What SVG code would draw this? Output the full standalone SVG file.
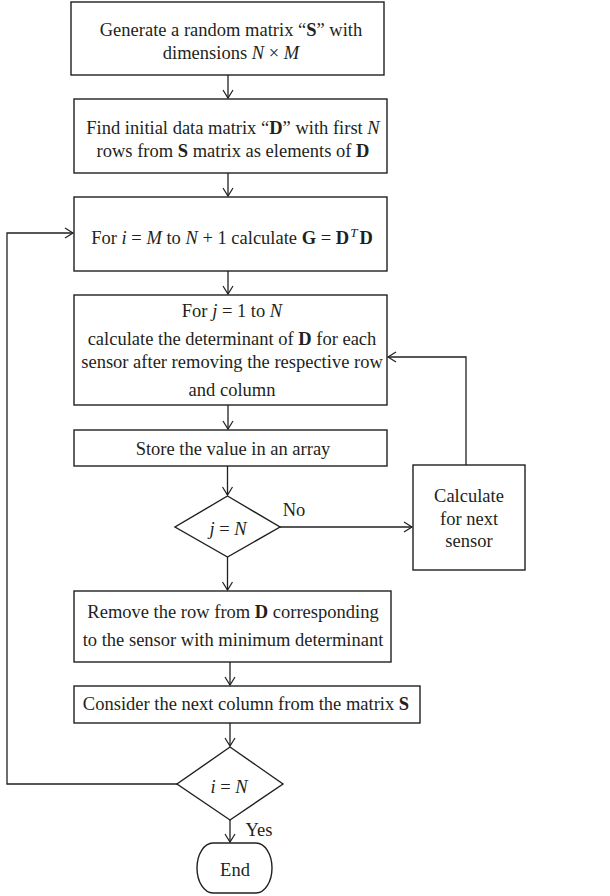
<svg xmlns="http://www.w3.org/2000/svg" width="610" height="896" viewBox="0 0 610 896">
<defs>
<style>
.box{fill:#fff;stroke:#231f20;stroke-width:1.4}
.ln{fill:none;stroke:#231f20;stroke-width:1.3}
text{font-family:"Liberation Serif","Times New Roman",serif;font-size:18.5px;fill:#231f20;text-anchor:middle}
.i{font-style:italic}
.b{font-weight:bold}
</style>
<marker id="arr" markerWidth="12" markerHeight="12" refX="10" refY="6" orient="auto" markerUnits="userSpaceOnUse">
<path d="M2,1 L10,6 L2,11" fill="none" stroke="#231f20" stroke-width="1.2"/>
</marker>
</defs>
<rect width="610" height="896" fill="#fff"/>
<g id="connectors">
<line class="ln" x1="228" y1="75" x2="228" y2="98" marker-end="url(#arr)"/>
<line class="ln" x1="228" y1="173" x2="228" y2="196" marker-end="url(#arr)"/>
<line class="ln" x1="228" y1="271" x2="228" y2="294" marker-end="url(#arr)"/>
<line class="ln" x1="228" y1="405" x2="228" y2="429" marker-end="url(#arr)"/>
<line class="ln" x1="227.5" y1="466" x2="227.5" y2="495" marker-end="url(#arr)"/>
<line class="ln" x1="280" y1="527" x2="412" y2="527" marker-end="url(#arr)"/>
<polyline class="ln" points="466,465 466,357 388,357" marker-end="url(#arr)"/>
<line class="ln" x1="227.5" y1="557" x2="227.5" y2="590" marker-end="url(#arr)"/>
<line class="ln" x1="230" y1="662" x2="230" y2="685" marker-end="url(#arr)"/>
<line class="ln" x1="230" y1="723" x2="230" y2="746" marker-end="url(#arr)"/>
<polyline class="ln" points="177,784 7,784 7,233 73,233" marker-end="url(#arr)"/>
<line class="ln" x1="230" y1="820" x2="230" y2="842" marker-end="url(#arr)"/>
<text x="294" y="516">No</text>
<text x="259" y="836">Yes</text>
</g>
<g id="n1">
<rect class="box" x="71" y="2" width="313" height="73"/>
<text x="231" y="36">Generate a random matrix “<tspan class="b">S</tspan>” with</text>
<text x="231" y="59">dimensions <tspan class="i">N</tspan> × <tspan class="i">M</tspan></text>
</g>
<g id="n2">
<rect class="box" x="74" y="99" width="313" height="74"/>
<text x="233" y="134">Find initial data matrix “<tspan class="b">D</tspan>” with first <tspan class="i">N</tspan></text>
<text x="233" y="157">rows from <tspan class="b">S</tspan> matrix as elements of <tspan class="b">D</tspan></text>
</g>
<g id="n3">
<rect class="box" x="74" y="197" width="313" height="74"/>
<text x="232" y="244">For <tspan class="i">i</tspan> = <tspan class="i">M</tspan> to <tspan class="i">N</tspan> + 1 calculate <tspan class="b">G</tspan> = <tspan class="b">D</tspan><tspan class="i" font-size="13" dx="1" dy="-7">T</tspan><tspan class="b" dx="2" dy="7">D</tspan></text>
</g>
<g id="n4">
<rect class="box" x="74" y="295" width="313" height="110"/>
<text x="232" y="317">For <tspan class="i">j</tspan> = 1 to <tspan class="i">N</tspan></text>
<text x="232" y="345">calculate the determinant of <tspan class="b">D</tspan> for each</text>
<text x="232" y="368">sensor after removing the respective row</text>
<text x="232" y="396">and column</text>
</g>
<g id="n5">
<rect class="box" x="74" y="430" width="313" height="36"/>
<text x="233" y="455">Store the value in an array</text>
</g>
<g id="n6">
<polygon class="box" points="227.5,496 280,527 227.5,557 175,527"/>
<text x="228" y="535"><tspan class="i">j</tspan> = <tspan class="i">N</tspan></text>
</g>
<g id="n7">
<rect class="box" x="413" y="465" width="112" height="105"/>
<text x="469" y="502">Calculate</text>
<text x="469" y="525">for next</text>
<text x="469" y="547">sensor</text>
</g>
<g id="n8">
<rect class="box" x="74" y="591" width="317" height="71"/>
<text x="233" y="618">Remove the row from <tspan class="b">D</tspan> corresponding</text>
<text x="233" y="646">to the sensor with minimum determinant</text>
</g>
<g id="n9">
<rect class="box" x="74" y="686" width="346" height="37"/>
<text x="246" y="710">Consider the next column from the matrix <tspan class="b">S</tspan></text>
</g>
<g id="n10">
<polygon class="box" points="230,747 283,784 230,820 177,784"/>
<text x="229" y="793"><tspan class="i">i</tspan> = <tspan class="i">N</tspan></text>
</g>
<g id="n11">
<rect class="box" x="197" y="843" width="75" height="50" rx="16" ry="25"/>
<text x="235" y="876">End</text>
</g>
</svg>
